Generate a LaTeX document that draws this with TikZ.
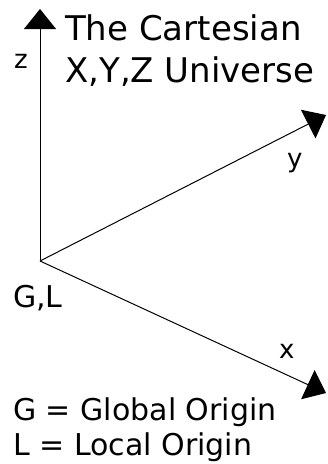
\documentclass[tikz,border=0pt]{standalone}
\usepackage{fontspec}
\setmainfont{DejaVu Sans}
\usetikzlibrary{arrows.meta}

\begin{document}
\begin{tikzpicture}[
    x=1pt, y=-1pt,
    big/.style={font=\fontsize{30}{36}\selectfont, inner sep=0pt},
    heading/.style={font=\fontsize{34}{40}\selectfont, inner sep=0pt},
    small/.style={font=\fontsize{26}{30}\selectfont, inner sep=0pt},
    axis/.style={line width=1pt, -{Triangle[width=32pt, length=20pt]}}
]
\useasboundingbox (0,0) rectangle (328,464);

% --- origin and axis ends ---
\coordinate (origin) at (40,261);
\coordinate (ztip) at (40,9);
\coordinate (ytip) at (326,115);
\coordinate (xtip) at (326,393);

% --- axes ---
\draw [axis] (origin) -- (ztip);
\draw [axis] (origin) -- (ytip);
\draw [axis] (origin) -- (xtip);

% --- labels ---
\node (title1) [heading, anchor=base west] at (65,40) {The Cartesian};
\node (title2) [heading, anchor=base west] at (65,82) {X,Y,Z Universe};
\node (zlabel) [small, anchor=base west] at (14,68) {z};
\node (ylabel) [small, anchor=base west] at (287,167) {y};
\node (xlabel) [small, anchor=base west] at (279,358) {x};
\node (gl) [big, anchor=base west] at (13,307) {G,L};
\node (legend1) [big, anchor=base west] at (13,420) {G = Global Origin};
\node (legend2) [big, anchor=base west] at (13,455) {L = Local Origin};

\end{tikzpicture}
\end{document}
